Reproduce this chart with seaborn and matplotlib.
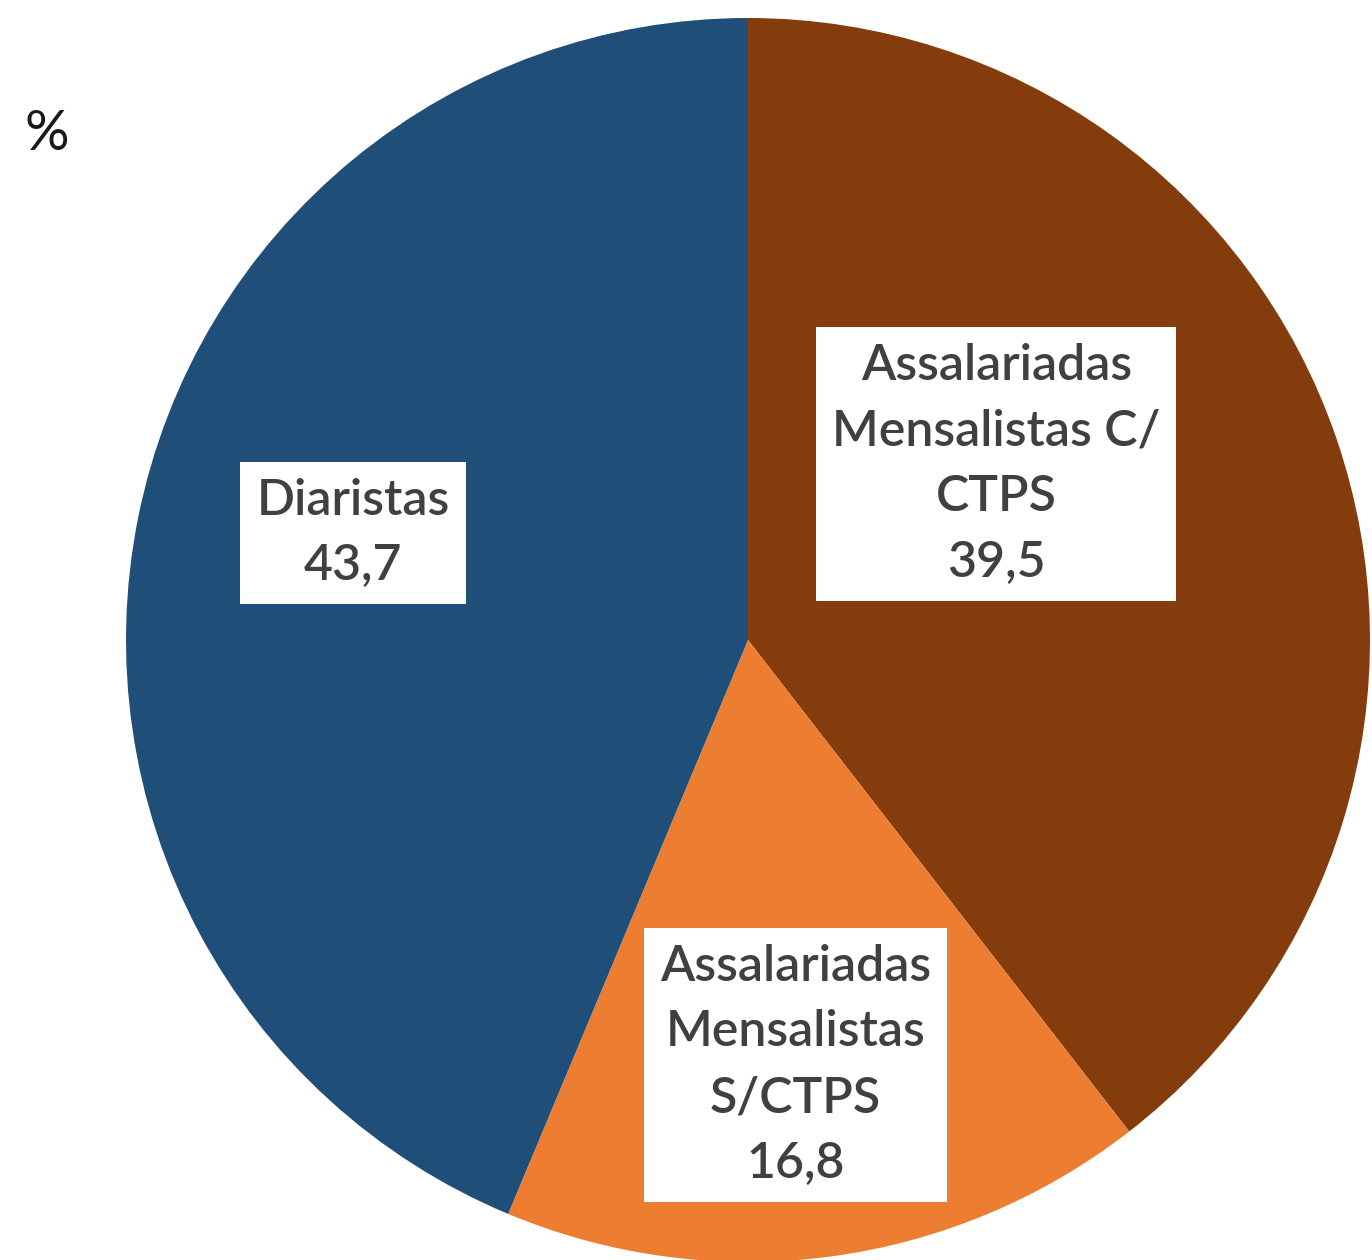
import matplotlib
matplotlib.use("Agg")
import matplotlib.pyplot as plt
import seaborn as sns

# data
categorias = ["Assalariadas\nMensalistas C/\nCTPS", "Assalariadas\nMensalistas\nS/CTPS", "Diaristas"]
valores = [39.5, 16.8, 43.7]
rotulos_valor = ["39,5", "16,8", "43,7"]
cores = ["#843C0C", "#ED7D31", "#1F4E79"]

sns.set_theme(style="white")
plt.rcParams["font.family"] = ["Lato", "DejaVu Sans"]

fig = plt.figure(figsize=(13.72, 12.6), dpi=100)
# pie centre ~ (748, 640) px, radius ~ 622 px
r_px = 622
ax = fig.add_axes([(748 - r_px) / 1372, (1260 - 640 - r_px) / 1260, 2 * r_px / 1372, 2 * r_px / 1260])

wedges, _ = ax.pie(valores, colors=cores, startangle=90, counterclock=False,
                   radius=1, wedgeprops={"linewidth": 0})
ax.set_xlim(-1, 1)
ax.set_ylim(-1, 1)
ax.set_aspect("equal")
ax.axis("off")

# label positions (axes data units)
pos_rotulos = [(0.399, 0.283), (0.076, -0.683), (-0.635, 0.172)]
for (x, y), cat, val in zip(pos_rotulos, categorias, rotulos_valor):
    ax.text(x, y, f"{cat}\n{val}", ha="center", va="center", fontsize=36,
            fontweight="semibold", color="#404040", linespacing=1.56, clip_on=False,
            bbox=dict(boxstyle="square,pad=0.32", facecolor="white", edgecolor="none"))

fig.text(47 / 1372, 1 - 135 / 1260, "%", ha="center", va="center", fontsize=40, color="#1a1a1a")

fig.savefig("out.png", dpi=100)
